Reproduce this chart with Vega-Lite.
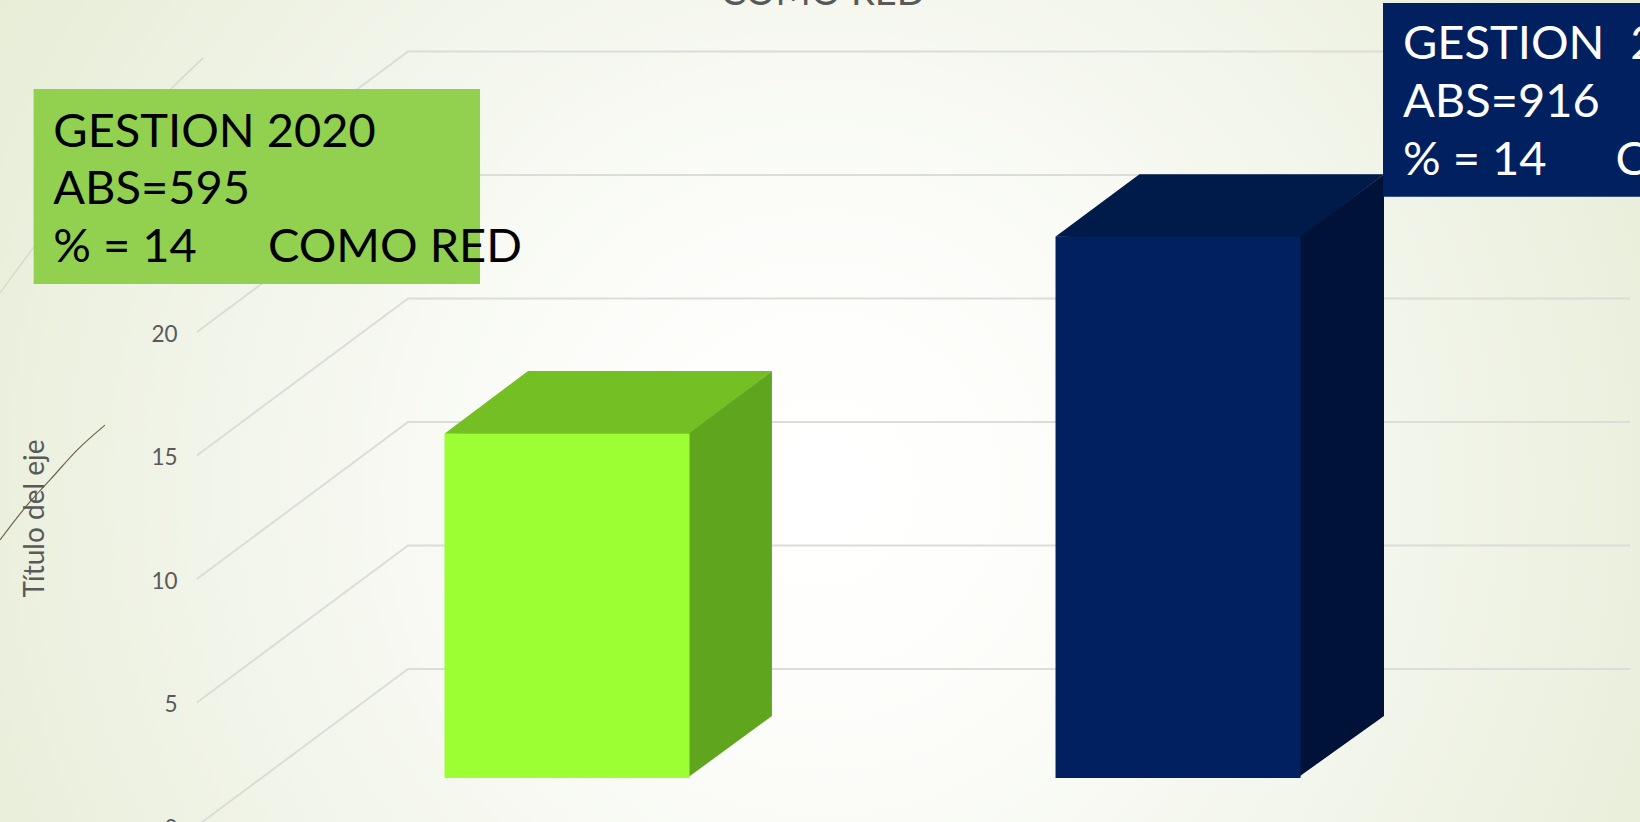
{"$schema":"https://vega.github.io/schema/vega-lite/v6.json","width":1640,"height":830,"padding":0,"autosize":{"type":"none"},"background":"#f6f8ef","config":{"view":{"stroke":null},"font":"Lato"},
"resolve":{"scale":{"x":"independent","y":"independent","color":"independent"}},
"layer":[
{"data":{"values":[{"x":0,"x2":100,"n":46.8,"n2":-19.6}]},"mark":{"type":"rect","clip":true,"fill":{"gradient":"radial","x1":0.5,"y1":0.5,"r1":0,"x2":0.5,"y2":0.5,"r2":0.65,"stops":[{"offset":0,"color":"#ffffff"},{"offset":0.14,"color":"#fefefc"},{"offset":0.28,"color":"#fbfcf8"},{"offset":0.52,"color":"#f3f6ec"},{"offset":0.84,"color":"#e9eeda"},{"offset":1,"color":"#e6ecd4"}]}},
"encoding":{"x":{"field":"x","type":"quantitative","axis":null,"scale":{"domain":[0,100],"nice":false,"zero":false}},"x2":{"field":"x2"},"y":{"field":"n","type":"quantitative","axis":null,"scale":{"domain":[-0.162,33.44],"nice":false,"zero":false}},"y2":{"field":"n2"}}},
{"data":{"values":[
{"m":0,"x":12.01,"n":0},{"m":0,"x":24.88,"n":6.36},{"m":0,"x":99.39,"n":6.36},
{"m":5,"x":12.01,"n":5},{"m":5,"x":24.88,"n":11.36},{"m":5,"x":99.39,"n":11.36},
{"m":10,"x":12.01,"n":10},{"m":10,"x":24.88,"n":16.36},{"m":10,"x":99.39,"n":16.36},
{"m":15,"x":12.01,"n":15},{"m":15,"x":24.88,"n":21.36},{"m":15,"x":99.39,"n":21.36},
{"m":20,"x":12.01,"n":20},{"m":20,"x":24.88,"n":26.36},{"m":20,"x":99.39,"n":26.36},
{"m":25,"x":12.01,"n":25},{"m":25,"x":24.88,"n":31.36},{"m":25,"x":99.39,"n":31.36}
]},"mark":{"type":"line","color":"#dcdcd8","strokeWidth":2},
"encoding":{"detail":{"field":"m"},"x":{"field":"x","type":"quantitative","axis":null,"scale":{"domain":[0,100],"nice":false,"zero":false}},"y":{"field":"n","type":"quantitative","scale":{"domain":[-0.162,33.44],"nice":false,"zero":false},"axis":{"orient":"left","offset":-177,"values":[0,5,10,15,20],"grid":false,"domain":false,"ticks":false,"labelPadding":0,"labelOffset":2.5,"labelFontSize":22.5,"labelColor":"#595959","labelFont":"Lato","labelFontWeight":400,"zindex":1,"title":"Título del eje","titleFont":"Lato","titleFontSize":28,"titleFontWeight":400,"titleColor":"#595959","titleX":-142,"titleY":518,"titleAlign":"center","titleBaseline":"middle"}}}},
{"layer":[
{"data":{"values":[{"x":0,"n":21.58},{"x":2.07,"n":23.44},{"x":10.49,"n":29.88},{"x":12.38,"n":31.09}]},"mark":{"type":"line","color":"#d3d6c3","strokeWidth":1.2,"interpolate":"monotone"},"encoding":{"x":{"field":"x","type":"quantitative","axis":null,"scale":{"domain":[0,100],"nice":false,"zero":false}},"y":{"field":"n","type":"quantitative","axis":null,"scale":{"domain":[-0.162,33.44],"nice":false,"zero":false}}}},
{"data":{"values":[{"x":0,"n":11.58},{"x":1.77,"n":13.08},{"x":3.05,"n":14.01},{"x":4.7,"n":15.22},{"x":6.4,"n":16.23}]},"mark":{"type":"line","color":"#6f664c","strokeWidth":1.2,"interpolate":"monotone"},"encoding":{"x":{"field":"x","type":"quantitative","axis":null},"y":{"field":"n","type":"quantitative","axis":null}}}
]},
{"data":{"values":[
{"cara":"verde-sup","x":27.1,"y":14,"y2":14},{"cara":"verde-sup","x":32.2,"y":16.55,"y2":13.95},{"cara":"verde-sup","x":42.01,"y":16.55,"y2":13.95},{"cara":"verde-sup","x":47.07,"y":16.55,"y2":16.55},
{"cara":"verde-lat","x":41.9,"y":13.945,"y2":0},{"cara":"verde-lat","x":47.07,"y":16.55,"y2":2.52},
{"cara":"azul-sup","x":64.35,"y":22,"y2":22},{"cara":"azul-sup","x":69.48,"y":24.55,"y2":21.95},{"cara":"azul-sup","x":79.27,"y":24.55,"y2":21.95},{"cara":"azul-sup","x":84.39,"y":24.55,"y2":24.55},
{"cara":"azul-lat","x":79.1,"y":21.915,"y2":0},{"cara":"azul-lat","x":84.39,"y":24.55,"y2":2.52}
]},"mark":{"type":"area","interpolate":"linear"},
"encoding":{"x":{"field":"x","type":"quantitative","axis":null,"scale":{"domain":[0,100],"nice":false,"zero":false}},"y":{"field":"y","type":"quantitative","axis":null,"stack":null,"scale":{"domain":[-2.114,31.63],"nice":false,"zero":false}},"y2":{"field":"y2"},"color":{"field":"cara","type":"nominal","legend":null,"scale":{"domain":["verde-sup","verde-lat","azul-sup","azul-lat"],"range":["#74c024","#60a51e","#001a4a","#001238"]}}}},
{"data":{"values":[{"serie":"Gestion 2020","valor":14},{"serie":"Gestion 2021","valor":22}]},"mark":{"type":"bar"},
"encoding":{"x":{"field":"serie","type":"nominal","axis":null,"scale":{"paddingInner":0.599,"paddingOuter":0.6415,"align":0.567}},"y":{"field":"valor","type":"quantitative","axis":null,"stack":null,"scale":{"domain":[-2.114,31.63],"nice":false,"zero":false}},"color":{"field":"serie","type":"nominal","legend":null,"scale":{"range":["#9bff33","#002060"]}}}},
{"layer":[
{"data":{"values":[{"x":2.05,"x2":29.27,"n":29.84,"n2":21.94,"c":"verde"},{"x":84.33,"x2":100,"n":33.32,"n2":25.47,"c":"azul"}]},"mark":{"type":"rect"},
"encoding":{"x":{"field":"x","type":"quantitative","axis":null,"scale":{"domain":[0,100],"nice":false,"zero":false}},"x2":{"field":"x2"},"y":{"field":"n","type":"quantitative","axis":null,"scale":{"domain":[-0.162,33.44],"nice":false,"zero":false}},"y2":{"field":"n2"},"color":{"field":"c","type":"nominal","legend":null,"scale":{"domain":["verde","azul"],"range":["#92d050","#002060"]}}}},
{"data":{"values":[
{"t":"GESTION 2020","x":3.25,"n":27.49,"c":"n"},{"t":"ABS=595","x":3.25,"n":25.18,"c":"n"},{"t":"% = 14","x":3.25,"n":22.83,"c":"n"},{"t":"COMO RED","x":16.34,"n":22.83,"c":"n"},
{"t":"GESTION","x":85.55,"n":31.05,"c":"b"},{"t":"2020","x":99.4,"n":31.05,"c":"b"},{"t":"ABS=916","x":85.55,"n":28.7,"c":"b"},{"t":"% = 14","x":85.55,"n":26.36,"c":"b"},{"t":"COMO RED","x":98.5,"n":26.36,"c":"b"}
]},"mark":{"type":"text","align":"left","baseline":"alphabetic","font":"Lato","fontSize":47,"fontWeight":400},
"encoding":{"x":{"field":"x","type":"quantitative","axis":null},"y":{"field":"n","type":"quantitative","axis":null},"text":{"field":"t"},"color":{"field":"c","type":"nominal","legend":null,"scale":{"domain":["n","b"],"range":["#000000","#ffffff"]}}}},
{"data":{"values":[{"t":"COMO RED","x":50.18,"n":33.24}]},"mark":{"type":"text","align":"center","baseline":"alphabetic","font":"Lato","fontSize":38,"fontWeight":400,"color":"#595959"},
"encoding":{"x":{"field":"x","type":"quantitative","axis":null},"y":{"field":"n","type":"quantitative","axis":null},"text":{"field":"t"}}}
],"resolve":{"scale":{"color":"independent"}}}
]}
